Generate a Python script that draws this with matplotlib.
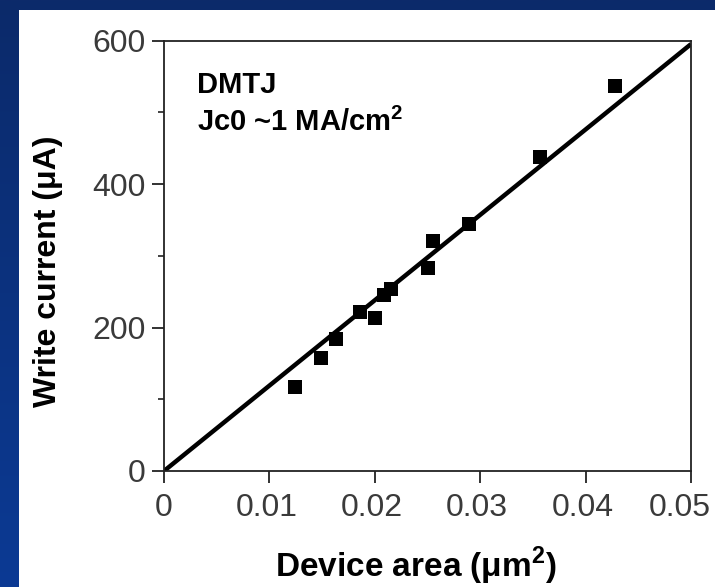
import numpy as np
import matplotlib
matplotlib.use("Agg")
import matplotlib.pyplot as plt
from matplotlib.patches import Rectangle
from matplotlib.ticker import MultipleLocator
from matplotlib.colors import LinearSegmentedColormap
import matplotlib.transforms as mtransforms

# ---- data ----
area_um2 = [0.01243, 0.01487, 0.01632, 0.01860, 0.02002, 0.02087,
            0.02151, 0.02502, 0.02549, 0.02897, 0.03567, 0.04279]
write_current_uA = [117.5, 157.1, 183.6, 221.2, 213.7, 245.3,
                    253.2, 283.3, 321.0, 343.8, 437.2, 537.0]
fit_x = [0.0, 0.05]
fit_y = [0.0, 595.0]
x_ticks = [0, 0.01, 0.02, 0.03, 0.04, 0.05]
x_ticklabels = ["0", "0.01", "0.02", "0.03", "0.04", "0.05"]
y_ticks = [0, 200, 400, 600]
y_ticklabels = ["0", "200", "400", "600"]
annot_lines = ["DMTJ", r"Jc0 ~1 MA/cm$^{\mathbf{2}}$"]
xlabel = r"Device area (μm$^{\mathbf{2}}$)"
ylabel = "Write current (μA)"

W, H = 715, 587
plt.rcParams['font.family'] = ['Liberation Sans', 'DejaVu Sans']
plt.rcParams['mathtext.fontset'] = 'custom'
plt.rcParams['mathtext.rm'] = 'Liberation Sans'
plt.rcParams['mathtext.bf'] = 'Liberation Sans:bold'
fig = plt.figure(figsize=(W / 100, H / 100), dpi=100)

# background: blue gradient with white panel
bg = fig.add_axes([0, 0, 1, 1], zorder=0)
grad = np.linspace(0, 1, 256).reshape(-1, 1)
cmap = LinearSegmentedColormap.from_list("bg", ["#0c2a6a", "#0b3a94"])
bg.imshow(grad, aspect='auto', cmap=cmap, extent=[0, 1, 0, 1], origin='upper')
bg.add_patch(Rectangle((19 / W, 0), 1 - 19 / W, (H - 10) / H,
                       transform=bg.transAxes, facecolor='white', edgecolor='none'))
bg.set_xlim(0, 1); bg.set_ylim(0, 1)
bg.axis('off')

# main axes
left, right, top, bottom = 164, 691, 40.5, 471
ax = fig.add_axes([left / W, (H - bottom) / H, (right - left) / W, (bottom - top) / H], zorder=1)
ax.plot(fit_x, fit_y, color='black', lw=3.2, solid_capstyle='butt', zorder=2)
ax.plot(area_um2, write_current_uA, linestyle='none', marker='s', ms=10.5,
        color='black', markeredgewidth=0, zorder=3)
ax.set_xlim(0, 0.05)
ax.set_ylim(0, 600)
ax.set_xticks(x_ticks)
ax.set_xticklabels(x_ticklabels)
ax.set_yticks(y_ticks)
ax.set_yticklabels(y_ticklabels)
ax.yaxis.set_minor_locator(MultipleLocator(100))
for s in ax.spines.values():
    s.set_linewidth(1.3)
    s.set_color('#222222')
ax.tick_params(axis='both', which='major', direction='out', length=8.5, width=1.3,
               color='#222222', labelsize=23, labelcolor='#3a3a3a')
ax.tick_params(axis='x', which='major', pad=7)
ax.tick_params(axis='y', which='major', pad=5)
ax.tick_params(axis='y', which='minor', direction='out', length=4, width=1.2, color='#222222')

# last x tick label sits a little left of its tick (as in the reference)
lbls = ax.get_xticklabels()
shift = mtransforms.ScaledTranslation(-11 / 100, 0, fig.dpi_scale_trans)
lbls[-1].set_transform(lbls[-1].get_transform() + shift)
shift2 = mtransforms.ScaledTranslation(-3 / 100, 0, fig.dpi_scale_trans)
for lb in lbls[1:-1]:
    lb.set_transform(lb.get_transform() + shift2)

ax.text(33 / (right - left), 1 - (85 - top) / (bottom - top), annot_lines[0],
        transform=ax.transAxes, fontsize=21, fontweight='bold', va='center', ha='left')
ax.text(33 / (right - left), 1 - (122 - top) / (bottom - top), annot_lines[1],
        transform=ax.transAxes, fontsize=21, fontweight='bold', va='center', ha='left')

fig.text(416 / W, 1 - 566 / H, xlabel, fontsize=24, fontweight='bold', ha='center', va='center')
fig.text(48 / W, 1 - 271 / H, ylabel, fontsize=23, fontweight='bold', ha='center', va='center',
         rotation=90)

fig.savefig("out.png", dpi=100)
